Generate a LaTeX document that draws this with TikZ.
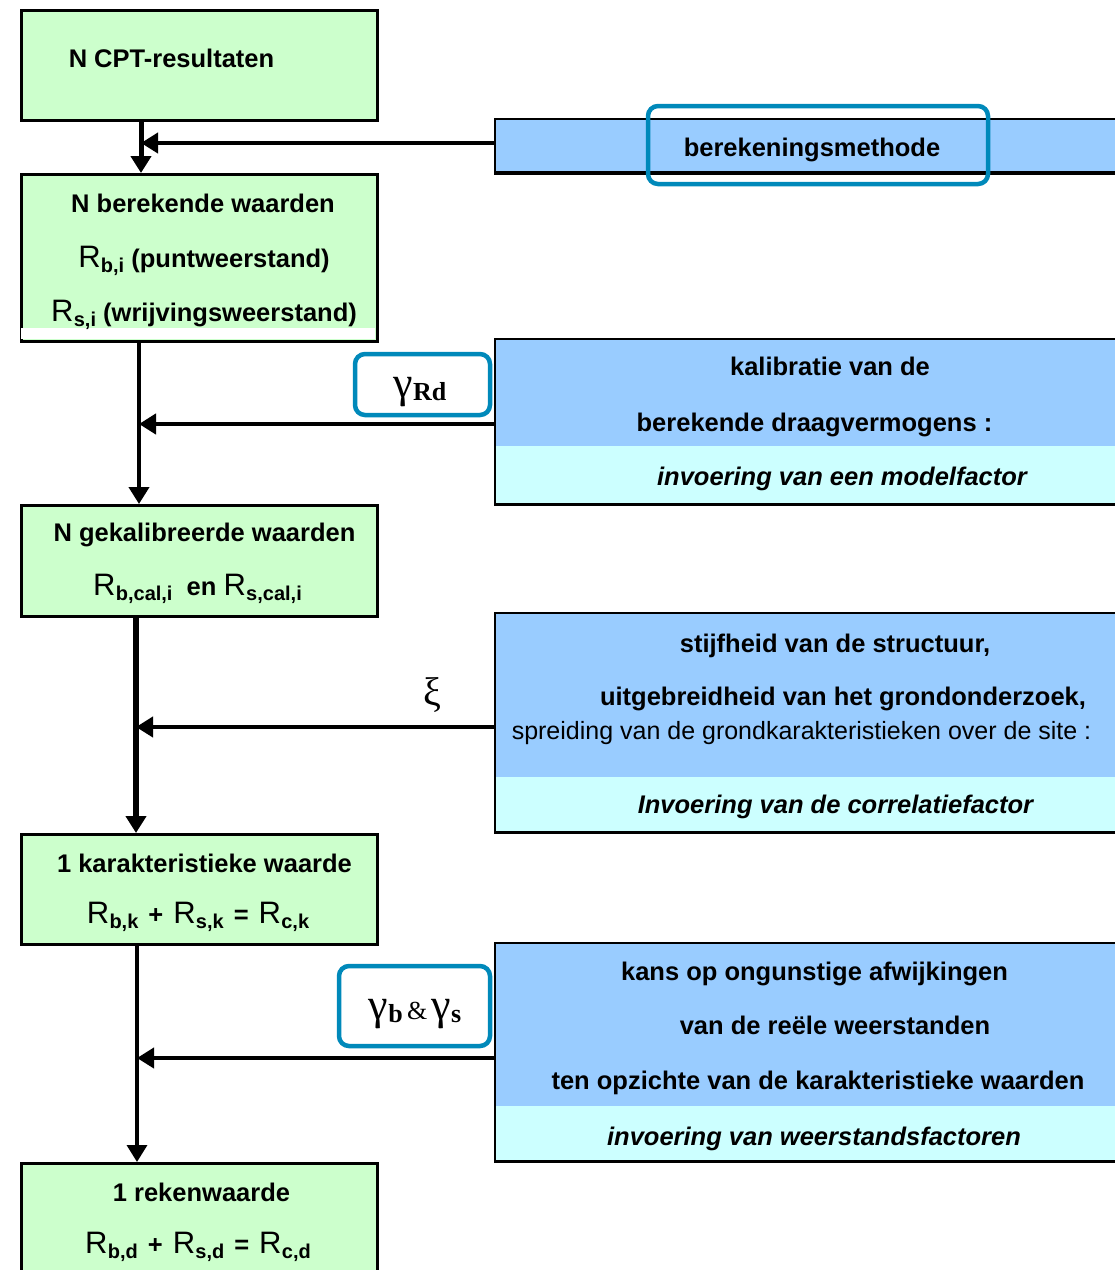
\documentclass[tikz,border=0pt]{standalone}
\usepackage{fontspec}
\setmainfont{Liberation Sans}
\newfontfamily\grk{Liberation Serif}
\usetikzlibrary{arrows.meta}
\definecolor{gfill}{RGB}{204,255,204}
\definecolor{bfill}{RGB}{153,204,255}
\definecolor{cfill}{RGB}{204,255,255}
\definecolor{hl}{RGB}{0,137,186}
\newcommand\bt{\fontsize{25.5}{30}\selectfont\bfseries}
\newcommand\bit{\fontsize{25.5}{30}\selectfont\bfseries\itshape}
\newcommand\rt{\fontsize{25}{30}\selectfont\mdseries}
\newcommand\Rsub[1]{{\fontsize{31}{31}\selectfont\mdseries R}\kern0.3pt\raisebox{-5pt}{\fontsize{20}{20}\selectfont\bfseries #1}}
\newcommand\gam[1]{{\grk\fontsize{44}{44}\selectfont γ}\raisebox{-3pt}{\grk\fontsize{26}{26}\selectfont\bfseries #1}}
\newcommand\op[1]{\hspace{10pt}#1\hspace{10pt}}
\begin{document}
\begin{tikzpicture}[x=1pt,y=-1pt,
  gbox/.style={draw=black,line width=2.5pt,fill=gfill,anchor=north west,inner sep=0pt,minimum width=356pt},
  bbox/.style={fill=bfill,anchor=north west,inner sep=0pt,minimum width=625pt},
  bborder/.style={draw=black,line width=2.5pt},
  hlbox/.style={draw=hl,line width=4.5pt,rounded corners=10pt,inner sep=0pt},
  txt/.style={anchor=base,inner sep=0pt,font=\bt},
  itxt/.style={anchor=base,inner sep=0pt,font=\bit},
  conn/.style={-{Triangle[length=17pt,width=20pt]}}
]
\useasboundingbox (0,0) rectangle (1115,1270);

% ---------- blue input boxes ----------
\node[bbox,minimum height=54pt] (k1) at (495,119) {};
\draw[bborder] (k1.north west) rectangle (k1.south east);
\draw[line width=4pt] (k1.south west) -- (k1.south east);

\node[bbox,minimum height=165pt] (k2) at (495,339) {};
\fill[cfill] (495,446) rectangle (1120,504);
\draw[bborder] (k2.north west) rectangle (k2.south east);

\node[bbox,minimum height=219pt] (k3) at (495,613) {};
\fill[cfill] (495,777) rectangle (1120,832);
\draw[bborder] (k3.north west) rectangle (k3.south east);

\node[bbox,minimum height=218pt] (k4) at (495,943) {};
\fill[cfill] (495,1106) rectangle (1120,1161);
\draw[bborder] (k4.north west) rectangle (k4.south east);

% ---------- green boxes ----------
\node[gbox,minimum height=110pt] (b1) at (20,9) {};
\node[gbox,minimum height=167pt] (b2) at (20,173) {};
\fill[white] (21.3,328) rectangle (374.7,338.7);
\node[gbox,minimum height=111pt] (b3) at (20,504) {};
\node[gbox,minimum height=110pt] (b4) at (20,833) {};
\node[gbox,minimum height=120pt] (b5) at (20,1162) {};

% ---------- texts in green boxes ----------
\node[txt] (t1) at (171.5,67) {N CPT-resultaten};
\node[txt] (t2) at (203,212) {N berekende waarden};
\node[txt] (t3) at (204,267) {\Rsub{b,i} (puntweerstand)};
\node[txt] (t4) at (204,321) {\Rsub{s,i} (wrijvingsweerstand)};
\node[txt] (t5) at (204.5,541) {N gekalibreerde waarden};
\node[txt] (t6) at (197.5,595) {\Rsub{b,cal,i}\ \ en \Rsub{s,cal,i}};
\node[txt] (t7) at (204.5,872) {1 karakteristieke waarde};
\node[txt] (t8) at (198,923) {\Rsub{b,k}\op{+}\Rsub{s,k}\op{=}\Rsub{c,k}};
\node[txt] (t9) at (201.5,1201) {1 rekenwaarde};
\node[txt] (t10) at (198,1253) {\Rsub{b,d}\op{+}\Rsub{s,d}\op{=}\Rsub{c,d}};

% ---------- texts in blue boxes ----------
\node[txt] (u1) at (812,156) {berekeningsmethode};
\node[txt] (u2) at (830,375) {kalibratie van de};
\node[txt] (u3) at (814.5,431) {berekende draagvermogens :};
\node[itxt] (u4) at (842,485) {invoering van een modelfactor};
\node[txt] (u5) at (835,652) {stijfheid van de structuur,};
\node[txt] (u6) at (843,705) {uitgebreidheid van het grondonderzoek,};
\node[anchor=base,inner sep=0pt,font=\rt] (u7) at (801.5,739) {spreiding van de grondkarakteristieken over de site :};
\node[itxt] (u8) at (835.5,813) {Invoering van de correlatiefactor};
\node[txt] (u9) at (814.5,980) {kans op ongunstige afwijkingen};
\node[txt] (u10) at (835,1034) {van de reële weerstanden};
\node[txt] (u11) at (818,1089) {ten opzichte van de karakteristieke waarden};
\node[itxt] (u12) at (814,1145) {invoering van weerstandsfactoren};

% ---------- connectors ----------
\coordinate (v1) at (141,0);
\coordinate (v2) at (139,0);
\coordinate (v3) at (136,0);
\coordinate (v4) at (137,0);
\coordinate (j1) at (141,143);
\coordinate (j2) at (139,424);
\coordinate (j3) at (136,727);
\coordinate (j4) at (137,1058);

\draw[conn,line width=5pt] (v1 |- b1.south) -- (v1 |- b2.north);
\draw[conn,line width=4pt] (v2 |- b2.south) -- (v2 |- b3.north);
\draw[conn,line width=5.5pt] (v3 |- b3.south) -- (v3 |- b4.north);
\draw[conn,line width=3.5pt] (v4 |- b4.south) -- (v4 |- b5.north);

\draw[conn,line width=4pt] (k1.west |- j1) -- (j1);
\draw[conn,line width=4.5pt] (k2.west |- j2) -- (j2);
\draw[conn,line width=4pt] (k3.west |- j3) -- (j3);
\draw[conn,line width=4pt] (k4.west |- j4) -- (j4);

% ---------- highlight boxes and symbols ----------
\node[hlbox,minimum width=340pt,minimum height=78pt] (h1) at (818,145) {};
\node[hlbox,minimum width=135pt,minimum height=61pt] (h2) at (422.5,384.5) {};
\node[hlbox,minimum width=151pt,minimum height=80pt] (h3) at (414.5,1006) {};

\node[anchor=base,inner sep=0pt] (g1) at (420,397) {\gam{Rd}};
\node[anchor=base,inner sep=0pt,font=\grk\fontsize{40}{40}\selectfont] (g2) at (432,705) {ξ};
\node[anchor=base,inner sep=0pt] (g3) at (415,1019) {\gam{b}{\grk\fontsize{26}{26}\selectfont\,\&\,}\gam{s}};
\end{tikzpicture}
\end{document}
